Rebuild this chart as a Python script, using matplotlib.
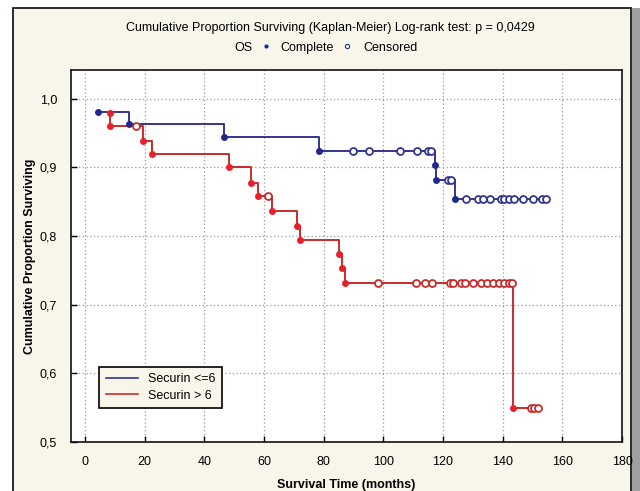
import matplotlib
matplotlib.use("Agg")
import matplotlib.pyplot as plt
from matplotlib.patches import Rectangle
from matplotlib.lines import Line2D

plt.rcParams['font.family'] = ['Liberation Sans', 'DejaVu Sans']

# ---- data ----
blue_label = "Securin <=6"
blue_event_t = [4.4, 14.7, 46.7, 78.3, 117.2, 117.7, 123.9]
blue_event_s = [0.981, 0.963, 0.945, 0.924, 0.903, 0.882, 0.854]
blue_end_t = 154.4
blue_cens_t = [89.7, 95.3, 105.6, 111.3, 115.0, 116.0,
               121.7, 122.7,
               127.7, 131.7, 133.3, 135.6, 139.4, 140.6, 142.2, 143.9, 146.7, 150.0, 153.3, 154.4]

red_label = "Securin > 6"
red_event_t = [8.3, 8.5, 19.4, 22.6, 48.3, 55.6, 58.0, 62.8, 71.1, 72.2, 85.0, 86.1, 87.2, 143.6]
red_event_s = [0.980, 0.961, 0.939, 0.920, 0.900, 0.877, 0.859, 0.837, 0.815, 0.794, 0.774, 0.753, 0.732, 0.549]
red_end_t = 151.7
red_cens_t = [17.1, 61.4,
              98.1, 110.9, 114.1, 116.3, 122.2, 123.3, 126.1, 127.4, 130.0, 132.6, 134.8,
              136.7, 138.9, 140.6, 142.2, 143.2,
              149.4, 150.6, 151.7]

x_ticks = [0, 20, 40, 60, 80, 100, 120, 140, 160, 180]
y_ticks = [0.5, 0.6, 0.7, 0.8, 0.9, 1.0]
y_tick_labels = ["0,5", "0,6", "0,7", "0,8", "0,9", "1,0"]

title1 = "Cumulative Proportion Surviving (Kaplan-Meier) Log-rank test: p = 0,0429"
xlabel = "Survival Time (months)"
ylabel = "Cumulative Proportion Surviving"

# ---- helpers ----
def step_value(times, surv, t):
    v = surv[0]
    for ti, si in zip(times, surv):
        if t >= ti:
            v = si
    return v

cream = '#f8f5ea'
fig = plt.figure(figsize=(6.4, 4.91), dpi=100, facecolor='white')
# framed cream panel
fig.patches.append(Rectangle((13/640, -0.02), (631-13)/640, 1.02 - 8/491,
                             transform=fig.transFigure, facecolor=cream,
                             edgecolor='#1a1a1a', linewidth=1.3, zorder=-10))
fig.patches.append(Rectangle((632/640, -0.02), 8/640, 1.02 - 8/491,
                             transform=fig.transFigure, facecolor='#a0a0a0',
                             edgecolor='none', zorder=-10))

ax = fig.add_axes([71/640, 1 - 442/491, (622-71)/640, (442-70)/491])
ax.set_facecolor('white')

series = [
    (blue_event_t, blue_event_s, blue_end_t, blue_cens_t, '#35358f', '#22288a', blue_label),
    (red_event_t, red_event_s, red_end_t, red_cens_t, '#c82c2c', '#e8202a', red_label),
]
handles = []
for et, es, end, ct, lc, mc, lab in series:
    xs = list(et) + [end]
    ys = list(es) + [es[-1]]
    ax.step(xs, ys, where='post', color=lc, linewidth=1.4, zorder=3)
    ax.plot(et, es, 'o', color=mc, markersize=5.0, markeredgewidth=0, zorder=4)
    cs = [step_value(et, es, t) for t in ct]
    ax.plot(ct, cs, 'o', markerfacecolor='white', markeredgecolor=lc,
            markersize=5.0, markeredgewidth=1.3, zorder=5)
    handles.append(Line2D([0], [0], color=lc, linewidth=1.2, label=lab))

ax.set_xlim(-4.7, 180)
ax.set_ylim(0.5, 1.042)
ax.set_xticks(x_ticks)
ax.set_xticklabels([str(v) for v in x_ticks])
ax.set_yticks(y_ticks)
ax.set_yticklabels(y_tick_labels)
ax.grid(True, color='#9a9a9a', linestyle=(0, (1, 2)), linewidth=0.9)
ax.set_axisbelow(True)
ax.tick_params(direction='in', length=4, width=1, labelsize=9, colors='black', pad=10)
for s in ax.spines.values():
    s.set_linewidth(1.2)
    s.set_color('#111111')

ax.set_xlabel(xlabel, fontsize=9, fontweight='bold', labelpad=8)
ax.set_ylabel(ylabel, fontsize=9, fontweight='bold', labelpad=3)

leg = ax.legend(handles=handles, loc='lower left', bbox_to_anchor=(0.04, 0.075),
                fontsize=9, frameon=True, fancybox=False, handlelength=2.6,
                borderpad=0.5, labelspacing=0.35, handletextpad=0.8)
leg.get_frame().set_facecolor(cream)
leg.get_frame().set_edgecolor('black')
leg.get_frame().set_linewidth(1.2)
leg.get_frame().set_alpha(1)

fig.text(330/640, 1 - 28/491, title1, ha='center', va='center', fontsize=9)
y2 = 1 - 48/491
fig.text(243/640, y2, "OS", ha='center', va='center', fontsize=9)
fig.add_artist(Line2D([266/640], [y2 + 0.004], marker='o', color='#22288a', markersize=3,
                      markeredgewidth=0, transform=fig.transFigure))
fig.text(307/640, y2, "Complete", ha='center', va='center', fontsize=9)
fig.add_artist(Line2D([347/640], [y2 + 0.004], marker='o', markerfacecolor='white',
                      markeredgecolor='#22288a', markersize=3, markeredgewidth=0.8,
                      transform=fig.transFigure))
fig.text(391/640, y2, "Censored", ha='center', va='center', fontsize=9)

fig.savefig('out.png', dpi=100, facecolor=fig.get_facecolor())
